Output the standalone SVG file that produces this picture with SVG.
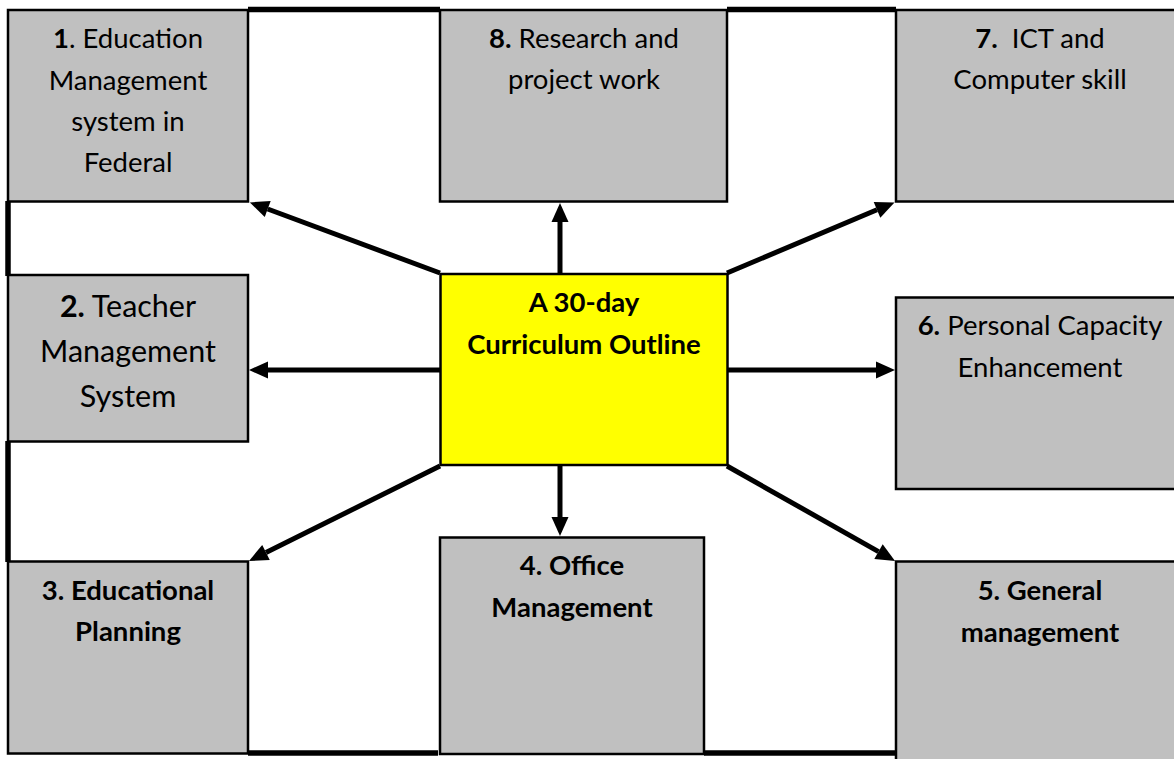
<svg xmlns="http://www.w3.org/2000/svg" width="1174" height="759" viewBox="0 0 1174 759">
  <style>
    .box { fill: #c0c0c0; stroke: #000; stroke-width: 2.5; }
    .hub { fill: #ffff00; stroke: #000; stroke-width: 2.5; }
    .frame { stroke: #000; stroke-width: 5.5; fill: none; stroke-linecap: butt; }
    .link { stroke: #000; stroke-width: 5; fill: none; marker-end: url(#head); }
    text { font-family: Lato, "Open Sans", "Liberation Sans", sans-serif; font-size: 27.5px; fill: #000; text-anchor: middle; }
    .big { font-size: 30.5px; }
    .b { font-weight: bold; }
  </style>
  <defs>
    <marker id="head" markerUnits="userSpaceOnUse" markerWidth="24" markerHeight="20" refX="0" refY="8.5" orient="auto" overflow="visible">
      <path d="M0,0 L19,8.5 L0,17 z" fill="#000"/>
    </marker>
  </defs>

  <rect width="1174" height="759" fill="#fff"/>

  <!-- heavy frame segments joining the outer boxes -->
  <g id="frame">
    <line class="frame" x1="248" y1="9.5" x2="440" y2="9.5"/>
    <line class="frame" x1="727" y1="9.5" x2="896" y2="9.5"/>
    <line class="frame" x1="8" y1="201" x2="8" y2="276"/>
    <line class="frame" x1="8" y1="441" x2="8" y2="562"/>
    <line class="frame" x1="248" y1="753" x2="438" y2="753"/>
    <line class="frame" x1="704" y1="753" x2="896" y2="753"/>
  </g>

  <!-- arrows from the hub to each topic -->
  <g id="connectors">
    <line class="link" x1="440" y1="273" x2="267.7" y2="209"/>
    <line class="link" x1="560" y1="273" x2="560" y2="222"/>
    <line class="link" x1="727" y1="273" x2="877" y2="209.8"/>
    <line class="link" x1="440" y1="370" x2="268" y2="370"/>
    <line class="link" x1="727" y1="370" x2="876" y2="370"/>
    <line class="link" x1="440" y1="466" x2="266" y2="552.5"/>
    <line class="link" x1="560" y1="466" x2="560" y2="517"/>
    <line class="link" x1="727" y1="466" x2="878.5" y2="551.6"/>
  </g>

  <g id="hub">
    <rect class="hub" x="440.5" y="274" width="287" height="191"/>
    <text class="b" x="584" y="312">A 30-day</text>
    <text class="b" x="584" y="353.5">Curriculum Outline</text>
  </g>

  <g id="node1">
    <rect class="box" x="8" y="10" width="240" height="191.5"/>
    <text x="128" y="48"><tspan class="b">1</tspan>. Education</text>
    <text x="128" y="90">Management</text>
    <text x="128" y="131">system in</text>
    <text x="128" y="172">Federal</text>
  </g>

  <g id="node2">
    <rect class="box" x="8" y="275" width="240" height="166.5"/>
    <text class="big" x="128" y="317"><tspan class="b">2.</tspan> Teacher</text>
    <text class="big" x="128" y="362">Management</text>
    <text class="big" x="128" y="407">System</text>
  </g>

  <g id="node3">
    <rect class="box" x="8" y="561.5" width="240" height="192"/>
    <text class="b" x="128" y="600">3. Educational</text>
    <text class="b" x="128" y="641">Planning</text>
  </g>

  <g id="node4">
    <rect class="box" x="440" y="537.5" width="264" height="216.5"/>
    <text class="b" x="572" y="575">4. Office</text>
    <text class="b" x="572" y="617">Management</text>
  </g>

  <g id="node5">
    <rect class="box" x="896" y="561.5" width="290" height="210"/>
    <text class="b" x="1040" y="600">5. General</text>
    <text class="b" x="1040" y="642">management</text>
  </g>

  <g id="node6">
    <rect class="box" x="896" y="297.5" width="290" height="191.5"/>
    <text x="1040" y="335"><tspan class="b">6.</tspan> Personal Capacity</text>
    <text x="1040" y="377">Enhancement</text>
  </g>

  <g id="node7">
    <rect class="box" x="896" y="10" width="290" height="191.5"/>
    <text x="1040" y="48" style="white-space:pre"><tspan class="b">7.</tspan>  ICT and</text>
    <text x="1040" y="89">Computer skill</text>
  </g>

  <g id="node8">
    <rect class="box" x="440" y="10" width="287" height="191.5"/>
    <text x="584" y="48"><tspan class="b">8.</tspan> Research and</text>
    <text x="584" y="89">project work</text>
  </g>
</svg>
